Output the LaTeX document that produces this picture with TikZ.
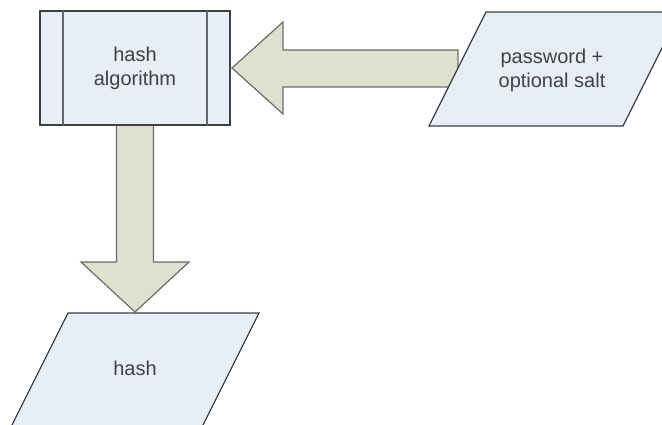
\documentclass[tikz,border=0pt]{standalone}
\usepackage{fontspec}
\setmainfont{Liberation Sans}
\definecolor{shapefill}{HTML}{E8EEF8}
\definecolor{shapeline}{HTML}{3C3F44}
\definecolor{arrowfill}{HTML}{DFE1CF}
\definecolor{arrowline}{HTML}{6A6C66}
\definecolor{textgrey}{HTML}{3F4145}
\begin{document}
\begin{tikzpicture}[x=1pt,y=-1pt,
  shapebox/.style={fill=shapefill,draw=shapeline,line width=1.3pt,line join=miter},
  blockarrow/.style={fill=arrowfill,draw=arrowline,line width=1.2pt,line join=miter},
  label/.style={text=textgrey,font=\fontsize{20}{24}\selectfont,align=center,inner sep=0pt}]
\useasboundingbox (0,0) rectangle (662,425);
\clip (0,0) rectangle (662,425);
% arrow from input to hash algorithm
\draw[blockarrow] (232,68) -- (283,22) -- (283,50) -- (458,50) -- (458,87) -- (283,87) -- (283,114) -- cycle;
% arrow from hash algorithm down to hash
\draw[blockarrow] (116.5,125) -- (153.5,125) -- (153.5,262) -- (189,262) -- (135,312) -- (81,262) -- (116.5,262) -- cycle;
% hash algorithm box
\draw[shapebox] (40,11) rectangle (230,125);
\draw[draw=shapeline!80,line width=1.8pt] (63,11) -- (63,125) (207,11) -- (207,125);
% input parallelogram
\draw[shapebox] (486,12) -- (680,12) -- (623,126) -- (429,126) -- cycle;
% output parallelogram
\draw[shapebox] (68,313) -- (259,313) -- (202,427) -- (11,427) -- cycle;
\node[label] (alg) at (135,68) {hash\\algorithm};
\node[label] (pwd) at (552,70) {password +\\optional salt};
\node[label] (out) at (135,368) {hash};
\end{tikzpicture}
\end{document}
